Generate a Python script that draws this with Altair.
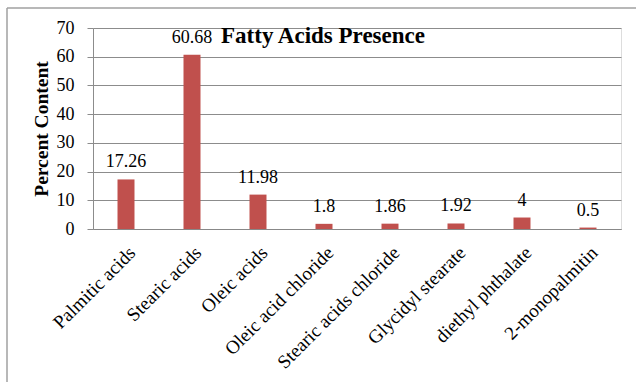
import altair as alt
import pandas as pd

categories = ["Palmitic acids", "Stearic acids", "Oleic acids", "Oleic acid chloride",
              "Stearic acids chloride", "Glycidyl stearate", "diethyl phthalate", "2-monopalmitin"]
values = [17.26, 60.68, 11.98, 1.8, 1.86, 1.92, 4, 0.5]
labels = ["17.26", "60.68", "11.98", "1.8", "1.86", "1.92", "4", "0.5"]
y_ticks = [0, 10, 20, 30, 40, 50, 60, 70]
title_text = "Fatty Acids Presence"
y_title = "Percent Content"

FONT = "Liberation Serif"
df = pd.DataFrame({"cat": categories, "val": values, "lab": labels})

x = alt.X("cat:N", sort=categories, title=None,
          axis=alt.Axis(labelAngle=-45, labelAlign="right", labelBaseline="top",
                        labelFont=FONT, labelFontSize=19, labelColor="black",
                        ticks=False, domainColor="#888888", domainWidth=1, labelPadding=14,
                        labelLimit=400, labelOverlap=False))
y = alt.Y("val:Q", scale=alt.Scale(domain=[0, 70], nice=False),
          axis=alt.Axis(values=y_ticks, title=y_title, titleFont=FONT, titleFontSize=19.5,
                        titleFontWeight="bold", titleColor="black", titlePadding=5,
                        labelFont=FONT, labelFontSize=18, labelColor="black", labelPadding=13,
                        labelOverlap=False,
                        grid=True, gridColor="#8c8c8c", gridWidth=1,
                        tickColor="#8c8c8c", tickSize=6, domainColor="#8c8c8c"))

base = alt.Chart(df)
bars = base.mark_bar(size=17, color="#C0504D").encode(x=x, y=y)
text = base.mark_text(font=FONT, fontSize=18, color="black", baseline="alphabetic", dy=-12).encode(
    x=x, y=y, text="lab:N")

one = pd.DataFrame({"t": [title_text]})
title = alt.Chart(one).mark_text(font=FONT, fontSize=23, fontWeight="bold", color="black",
                                 align="center", baseline="alphabetic").encode(
    x=alt.value(230), y=alt.value(15), text="t:N")
frame_left = alt.Chart(one).mark_rule(color="#a0a0a0", strokeWidth=1.5).encode(
    x=alt.value(-86), y=alt.value(-20), y2=alt.value(360))
frame_top = alt.Chart(one).mark_rule(color="#a0a0a0", strokeWidth=1.5).encode(
    x=alt.value(-86), x2=alt.value(550), y=alt.value(-20))

chart = alt.layer(bars, text, title, frame_left, frame_top).properties(
    width=528, height=201,
    autosize=alt.AutoSizeParams(type="none"),
    padding={"left": 93, "top": 28, "right": 15, "bottom": 153},
).configure_view(stroke=None).configure(background="white")

chart.save("out.html", embed_options={"renderer": "svg", "actions": False})
